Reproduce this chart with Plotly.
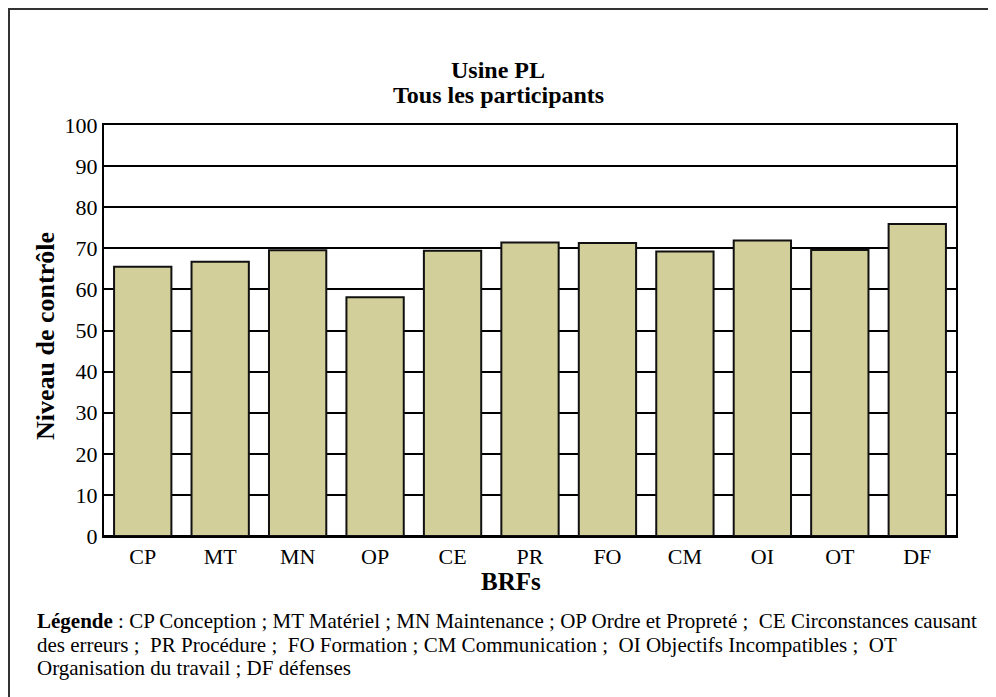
import plotly.graph_objects as go

categories = ["CP", "MT", "MN", "OP", "CE", "PR", "FO", "CM", "OI", "OT", "DF"]
values = [65.5, 66.7, 69.5, 58.1, 69.4, 71.4, 71.3, 69.2, 71.9, 69.6, 75.9]
y_ticks = [0, 10, 20, 30, 40, 50, 60, 70, 80, 90, 100]

title_lines = ["Usine PL", "Tous les participants"]
y_title = "Niveau de contrôle"
x_title = "BRFs"
legend_lines = [
    "<b>Légende</b> : CP Conception ; MT Matériel ; MN Maintenance ; OP Ordre et Propreté ;  CE Circonstances causant",
    "des erreurs ;  PR Procédure ;  FO Formation ; CM Communication ;  OI Objectifs Incompatibles ;  OT",
    "Organisation du travail ; DF défenses",
]

FONT = "Liberation Serif"
OFF = 8  # page body margin
W, H = 996 - OFF, 697 - OFF
# plot area in browser pixels: x 104..956, y 125..536
L, R, T, B = 104 - OFF, 996 - 956, 125 - OFF, 697 - 536
pw, ph = W - L - R, H - T - B


def px(x):
    return (x - OFF - L) / pw


def py(y):
    return (H - B - (y - OFF)) / ph


fig = go.Figure()
fig.add_trace(go.Bar(
    x=categories, y=values,
    marker=dict(color="#D3CF9A", line=dict(color="#111111", width=2)),
    width=0.74,
))

annotations = [
    dict(text="<b>" + title_lines[0] + "</b>", xref="paper", yref="paper",
         x=px(498), y=py(70), xanchor="center", yanchor="middle", showarrow=False,
         font=dict(family=FONT, size=24, color="black")),
    dict(text="<b>" + title_lines[1] + "</b>", xref="paper", yref="paper",
         x=px(498), y=py(95), xanchor="center", yanchor="middle", showarrow=False,
         font=dict(family=FONT, size=24, color="black")),
    dict(text="<b>" + y_title + "</b>", textangle=-90, xref="paper", yref="paper",
         x=px(45), y=py(336), xanchor="center", yanchor="middle", showarrow=False,
         font=dict(family=FONT, size=26, color="black")),
    dict(text="<b>" + x_title + "</b>", xref="paper", yref="paper",
         x=px(511), y=py(581), xanchor="center", yanchor="middle", showarrow=False,
         font=dict(family=FONT, size=25, color="black")),
]
for i, line in enumerate(legend_lines):
    annotations.append(dict(
        text=line, xref="paper", yref="paper", align="left",
        x=px(35), y=py(621 + 23.5 * i), xanchor="left", yanchor="middle",
        showarrow=False, font=dict(family=FONT, size=21, color="black")))

fig.update_layout(
    width=W, height=H,
    margin=dict(l=L, r=R, t=T, b=B),
    paper_bgcolor="white", plot_bgcolor="white",
    font=dict(family=FONT, color="black"),
    showlegend=False,
    xaxis=dict(showgrid=False, showline=True, linecolor="black", linewidth=2,
               mirror=True, ticks="", tickfont=dict(family=FONT, size=22),
               range=[-0.5, 10.5]),
    yaxis=dict(range=[0, 100], tickvals=y_ticks, showgrid=True, gridcolor="black",
               gridwidth=2, showline=True, linecolor="black", linewidth=2,
               mirror=True, ticks="", tickfont=dict(family=FONT, size=22),
               zeroline=True, zerolinecolor="black", zerolinewidth=2),
    shapes=[dict(type="rect", xref="paper", yref="paper",
                 x0=px(9), x1=px(1020), y0=py(720), y1=py(9),
                 line=dict(color="#333333", width=2), fillcolor="rgba(0,0,0,0)",
                 layer="below")],
    annotations=annotations,
)

fig.write_html("out.html", config={"displayModeBar": False})
